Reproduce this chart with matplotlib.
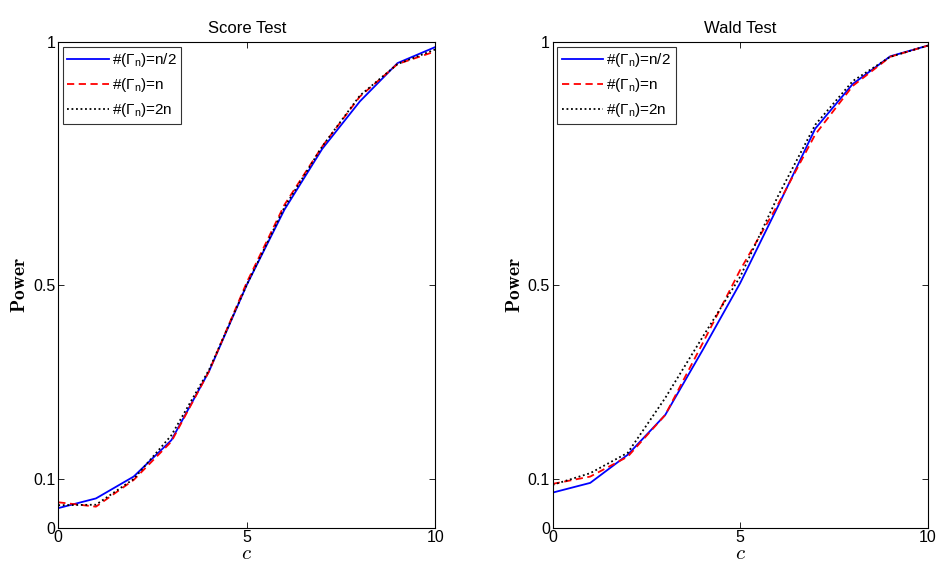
import matplotlib
matplotlib.use("Agg")
import matplotlib.pyplot as plt
import numpy as np

plt.rcParams['font.family'] = ['Liberation Sans', 'DejaVu Sans']
plt.rcParams['mathtext.fontset'] = 'custom'
plt.rcParams['mathtext.rm'] = 'Liberation Sans'
plt.rcParams['mathtext.it'] = 'Liberation Sans:italic'

c_vals = [0, 1, 2, 3, 4, 5, 6, 7, 8, 9, 10]

score_half = [0.040, 0.060, 0.105, 0.180, 0.322, 0.500, 0.655, 0.780, 0.878, 0.957, 0.990]
score_n    = [0.052, 0.043, 0.098, 0.177, 0.322, 0.505, 0.665, 0.785, 0.888, 0.955, 0.981]
score_2n   = [0.046, 0.047, 0.100, 0.190, 0.325, 0.500, 0.660, 0.785, 0.890, 0.955, 0.985]

wald_half = [0.072, 0.092, 0.150, 0.232, 0.366, 0.504, 0.661, 0.822, 0.914, 0.971, 0.993]
wald_n    = [0.090, 0.105, 0.146, 0.232, 0.380, 0.531, 0.665, 0.810, 0.910, 0.970, 0.993]
wald_2n   = [0.088, 0.112, 0.154, 0.267, 0.393, 0.517, 0.682, 0.830, 0.920, 0.970, 0.993]

labels = [r'#($\Gamma_{\mathrm{n}}$)=n/2', r'#($\Gamma_{\mathrm{n}}$)=n', r'#($\Gamma_{\mathrm{n}}$)=2n']
titles = ['Score Test', 'Wald Test']
xticks = [0, 5, 10]
yticks = [0, 0.1, 0.5, 1]
yticklabels = ['0', '0.1', '0.5', '1']

fig = plt.figure(figsize=(9.4, 5.63), dpi=100)
ax1 = fig.add_axes([0.062, 0.063, 0.401, 0.862])
ax2 = fig.add_axes([0.588, 0.063, 0.399, 0.862])

for ax, title, (a, b, d) in zip([ax1, ax2], titles,
                                [(score_half, score_n, score_2n), (wald_half, wald_n, wald_2n)]):
    ax.plot(c_vals, a, color='#0000ff', lw=1.3, label=labels[0])
    ax.plot(c_vals, b, color='#ff0000', lw=1.3, ls=(0, (4, 2.5)), label=labels[1])
    ax.plot(c_vals, d, color='black', lw=1.3, ls=(0, (1, 1.5)), label=labels[2])
    ax.set_xlim(0, 10)
    ax.set_ylim(0, 1)
    ax.set_xticks(xticks)
    ax.set_yticks(yticks)
    ax.set_yticklabels(yticklabels)
    ax.tick_params(direction='in', top=True, right=True, labelsize=11.5, length=4, width=0.6, pad=2)
    for s in ax.spines.values():
        s.set_linewidth(0.8)
    ax.set_title(title, fontsize=12, pad=7)
    ax.set_ylabel(r'$\mathbf{Power}$', fontsize=14, math_fontfamily='cm', labelpad=3)
    ax.set_xlabel(r'$c$', fontsize=15, math_fontfamily='cm', labelpad=-1)
    leg = ax.legend(loc='upper left', fontsize=11, frameon=True, fancybox=False,
                    edgecolor='black', handlelength=2.7, handletextpad=0.2,
                    borderaxespad=0.3, borderpad=0.3, labelspacing=0.45)
    leg.get_frame().set_linewidth(0.8)

fig.savefig('out.png', dpi=100)
